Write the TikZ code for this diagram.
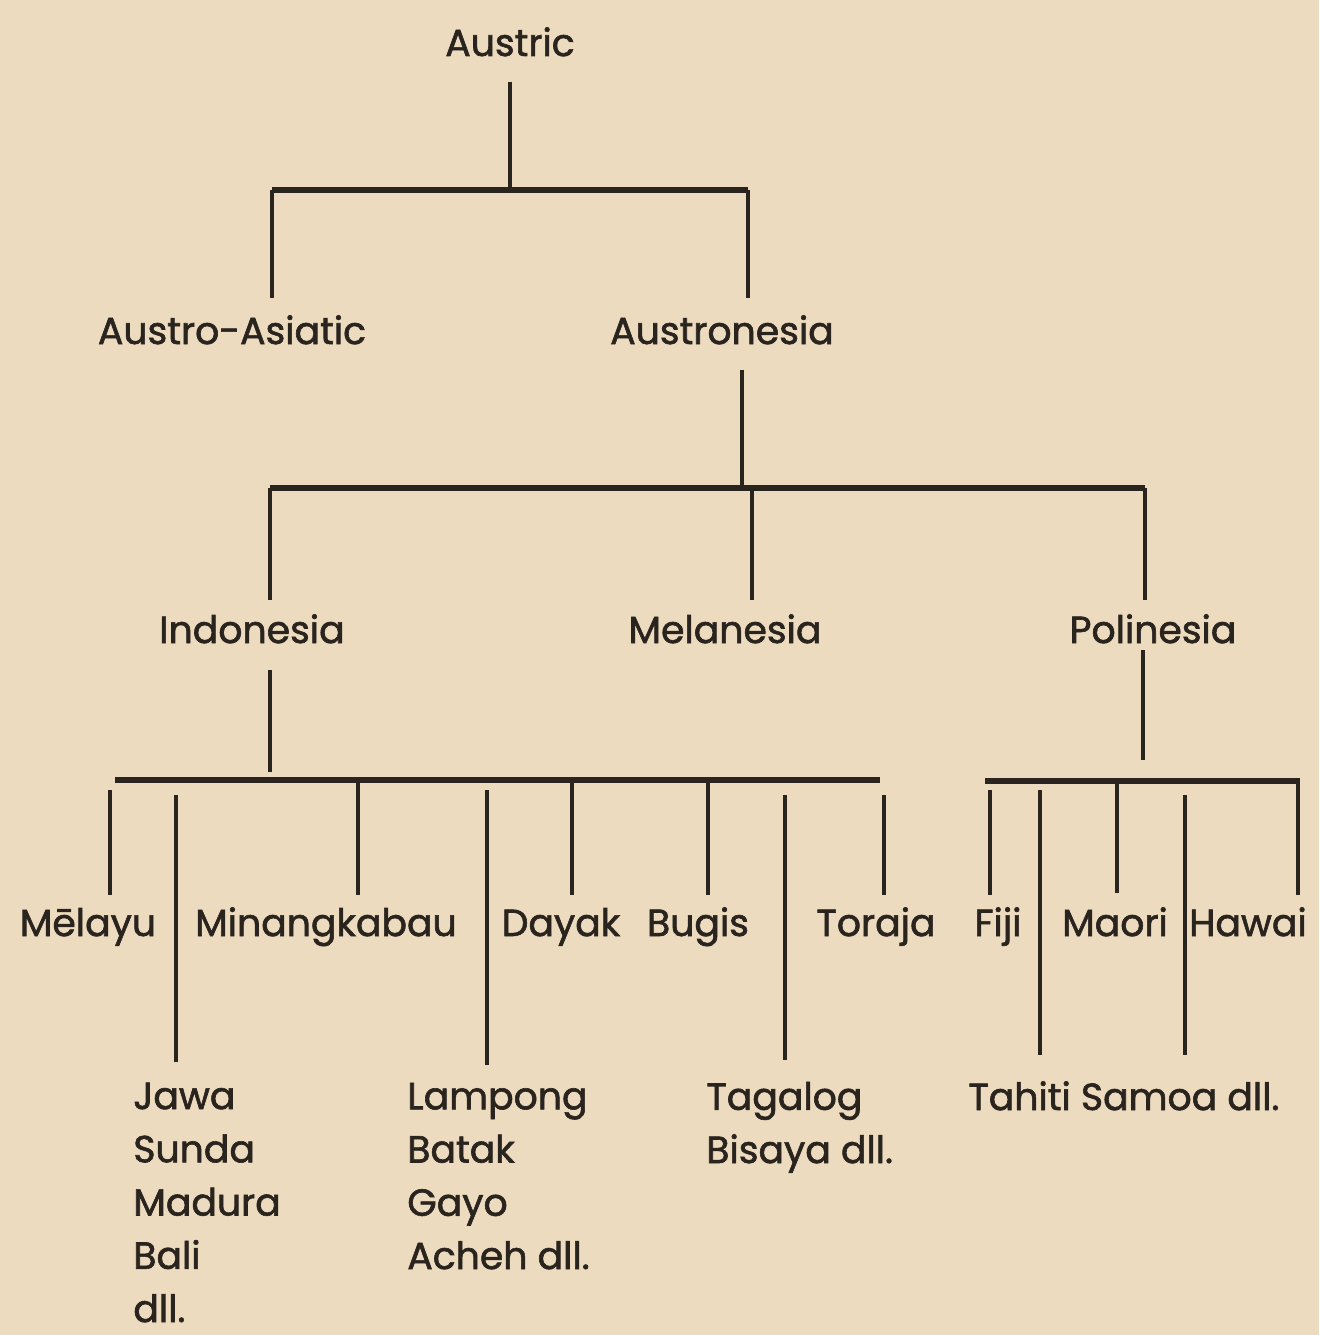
\documentclass[tikz,border=0pt]{standalone}
\usepackage{fontspec}
\newfontfamily\labfont[RawFeature={embolden=1.6}]{Poppins}
\definecolor{paper}{HTML}{EDDBBF}
\definecolor{ink}{HTML}{2A241F}
\begin{document}
\begin{tikzpicture}[x=0.02cm,y=-0.02cm,
  lab/.style={inner sep=0pt,anchor=base,text=ink,font=\labfont\fontsize{21.5}{30.3}\selectfont},
  llab/.style={lab,anchor=base west,align=left},
  bus/.style={draw=ink,line width=3.6pt},
  drop/.style={draw=ink,line width=2.6pt}]
\fill[paper] (0,0) rectangle (1319,1335);
\useasboundingbox (0,0) rectangle (1319,1335);

% labels
\node[lab] (austric) at (510,56) {Austric};
\node[lab] (aa) at (232,344) {Austro-Asiatic};
\node[lab] (an) at (722,344) {Austronesia};
\node[lab] (ind) at (252,643) {Indonesia};
\node[lab] (mel) at (725,643) {Melanesia};
\node[lab] (pol) at (1153,643) {Polinesia};
\node[lab] (melayu) at (88,936) {Mēlayu};
\node[lab] (minang) at (326,936) {Minangkabau};
\node[lab] (dayak) at (561,936) {Dayak};
\node[lab] (bugis) at (698,936) {Bugis};
\node[lab] (toraja) at (876,936) {Toraja};
\node[lab] (fiji) at (998,936) {Fiji};
\node[lab] (maori) at (1115,936) {Maori};
\node[lab] (hawai) at (1248,936) {Hawai};
% multi-line nodes: base anchor = baseline of last line
\node[llab] (jawa) at (133,1322) {Jawa\\Sunda\\Madura\\Bali\\dll.};
\node[llab] (lampong) at (407,1269) {Lampong\\Batak\\Gayo\\Acheh dll.};
\node[llab] (tagalog) at (706,1163) {Tagalog\\Bisaya dll.};
\node[llab] (tahiti) at (968,1110) {Tahiti Samoa dll.};

% level 1
\coordinate (r0) at (510,82);
\coordinate (r1) at (510,188);
\coordinate (b1L) at (272,190);
\coordinate (b1R) at (748,190);
\coordinate (aaT) at (272,298);
\coordinate (anT) at (748,298);
\draw[drop] (r0) -- (r1);
\draw[bus] (b1L) -- (b1R);
\draw[drop] (b1L) -- (aaT);
\draw[drop] (b1R) -- (anT);

% level 2
\coordinate (an0) at (742,370);
\coordinate (an1) at (742,486);
\coordinate (b2L) at (270,488);
\coordinate (b2M) at (752,488);
\coordinate (b2R) at (1145,488);
\draw[drop] (an0) -- (an1);
\draw[bus] (b2L) -- (b2R);
\draw[drop] (b2L) -- (270,600);
\draw[drop] (b2M) -- (752,600);
\draw[drop] (b2R) -- (1145,600);

% Indonesia branch
\coordinate (in0) at (270,670);
\coordinate (in1) at (270,772);
\coordinate (b3L) at (115,780);
\coordinate (b3R) at (880,780);
\draw[drop] (in0) -- (in1);
\draw[bus] (b3L) -- (b3R);
\draw[drop] (110,790) -- (110,895);
\draw[drop] (176,795) -- (176,1062);
\draw[drop] (358,782) -- (358,895);
\draw[drop] (487,790) -- (487,1065);
\draw[drop] (572,782) -- (572,895);
\draw[drop] (708,782) -- (708,895);
\draw[drop] (785,795) -- (785,1060);
\draw[drop] (884,795) -- (884,895);

% Polinesia branch
\coordinate (po0) at (1143,650);
\coordinate (po1) at (1143,760);
\coordinate (b4L) at (985,781);
\coordinate (b4R) at (1300,781);
\draw[drop] (po0) -- (po1);
\draw[bus] (b4L) -- (b4R);
\draw[drop] (990,790) -- (990,895);
\draw[drop] (1040,790) -- (1040,1055);
\draw[drop] (1117,783) -- (1117,893);
\draw[drop] (1185,795) -- (1185,1055);
\draw[drop] (1298,781) -- (1298,895);
\end{tikzpicture}
\end{document}
